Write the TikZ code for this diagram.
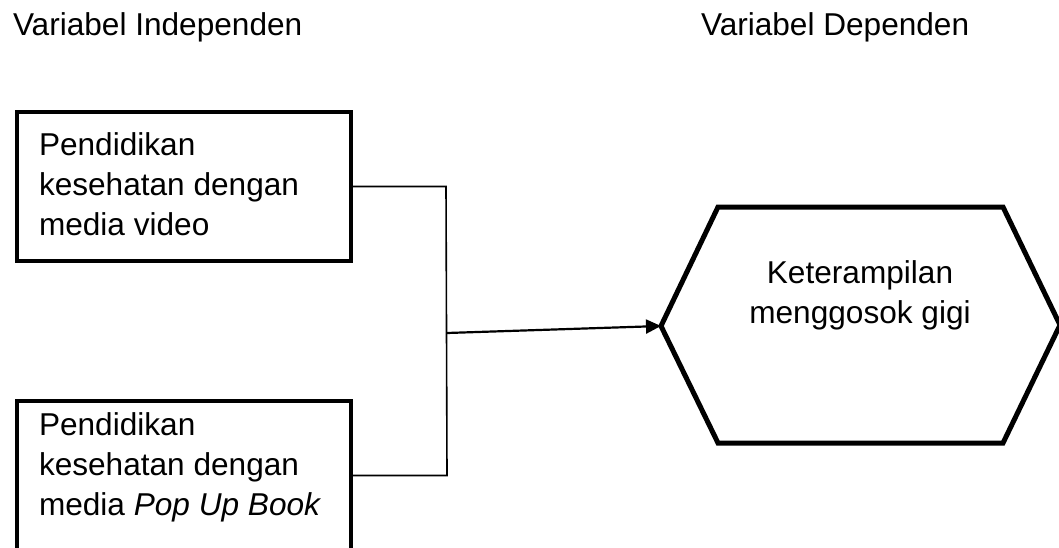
\documentclass[tikz,border=0pt]{standalone}
\usepackage{fontspec}
\setmainfont{Liberation Sans}
\usetikzlibrary{arrows.meta}
\tikzset{
  varbox/.style={draw, line width=4.6pt, rectangle, outer sep=0pt, inner sep=0pt,
    minimum width=334pt, minimum height=149pt, anchor=north west},
  label/.style={font=\fontsize{31.6}{40}\selectfont, inner sep=0pt, outer sep=0pt},
  boxtext/.style={label, align=left, anchor=north west},
  link/.style={line width=1.6pt},
  arrowlink/.style={line width=2.2pt, -{Triangle[length=15pt,width=14pt]}},
  hexline/.style={line width=5pt, line join=miter}
}
\begin{document}
\begin{tikzpicture}[x=1pt,y=-1pt]
\useasboundingbox (0,0) rectangle (1059,548);
\clip (0,0) rectangle (1059,548);
\fill[white] (0,0) rectangle (1059,548);

% titles
\node[label, anchor=north west] (tind) at (13,13) {Variabel Independen};
\node[label, anchor=north west] (tdep) at (701,13) {Variabel Dependen};

% independent variable boxes
\node[varbox] (b1) at (17,112) {};
\node[boxtext] (t1) at (39,133) {Pendidikan\\kesehatan dengan\\media video};
\node[varbox] (b2) at (17,401) {};
\node[boxtext] (t2) at (39,413) {Pendidikan\\kesehatan dengan\\media \textit{Pop Up Book}};

% joining bracket
\coordinate (jtop) at (446,0 |- b1.east);
\coordinate (jbot) at (447,0 |- b2.east);
\coordinate (hub) at (447,333);
\draw[link] (b1.east) -- (jtop) -- (jbot) -- (b2.east);

% dependent variable hexagon
\coordinate (hL) at (661,326);
\coordinate (hTL) at (718,207);
\coordinate (hTR) at (1003,207);
\coordinate (hR) at (1060,325);
\coordinate (hBR) at (1003,443);
\coordinate (hBL) at (718,443);
\draw[hexline] (hL) -- (hTL) -- (hTR) -- (hR) -- (hBR) -- (hBL) -- cycle;
\node[label, align=center, anchor=north] (hext) at (860,261) {Keterampilan\\menggosok gigi};

% arrow
\draw[arrowlink] (hub) -- (hL);
\end{tikzpicture}
\end{document}
